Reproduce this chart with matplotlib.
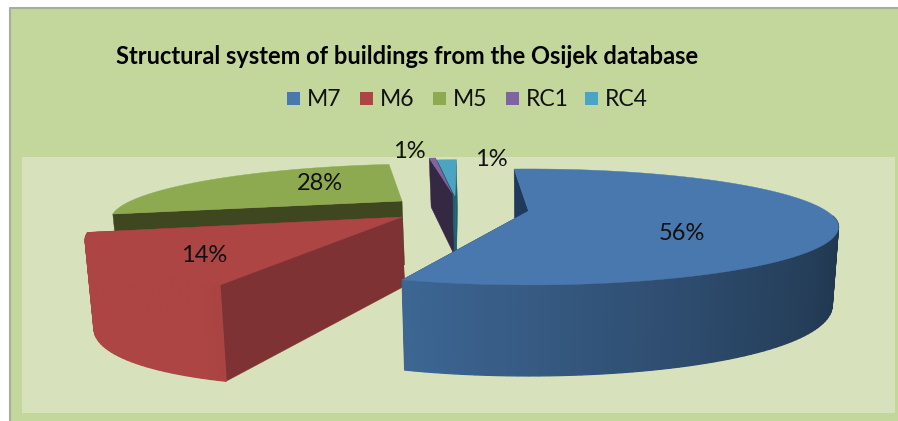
"""Exploded 3D-look pie: structural system of buildings, Osijek database."""
import numpy as np
import matplotlib
matplotlib.use("Agg")
import matplotlib.pyplot as plt
from matplotlib.patches import Polygon, Rectangle

# the printed labels, and the shares as the drawn slice angles
categories = ["M7", "M6", "M5", "RC1", "RC4"]
pct_labels = ["56%", "14%", "28%", "1%", "1%"]
shares = [56.05, 15.0, 26.44, 0.45, 1.35]
colors = ["#4878ae", "#ac4544", "#8eaa50", "#8064a2", "#4aa5c2"]
cut_colors = ["#1f3a5c", "#7e3233", "#3f4720", "#352843", "#1f5f6f"]

# pixel layout (figure is 898x421, axes in pixels, y down)
TITLE = "Structural system of buildings from the Osijek database"
APEX = {"M7": (528.5, 211), "M6": (402, 217), "M5": (402, 201),
        "RC1": (452, 193), "RC4": (455, 196)}
RADIUS = {"M7": 1.0, "M6": 0.955, "M5": 0.96, "RC1": 1.0, "RC4": 1.0}
GAP_BEFORE = {"M7": 0.0, "M6": 2.5, "M5": 0.0, "RC1": 0.0, "RC4": 0.0}
LABEL_AT = {"M7": (682, 234), "M6": (204, 256), "M5": (320, 184),
            "RC1": (409, 151), "RC4": (491, 159)}
LEGEND_X = [287, 360, 433, 506, 585]
RIM_BOOST = {"M7": 0.0, "M6": 0.12, "M5": 0.0, "RC1": 0.0, "RC4": 0.0}
FONT = "Lato"

# perspective camera
OX, OY = 528.0, 211.0
R, RY, K, H = 298.0, 53.6, 0.275, 66.0
SHRINK = 0.02
SIDE_GROW = 0.1
START = 93.5


def project(x, y, bottom=False):
    w = 1 + K * y
    sx = R * x / w
    sy = -RY * y / w
    if bottom:
        sx = sx * (1 - SHRINK)
        sy = sy + H * (1 + SIDE_GROW * x ** 2) / w
    return OX + sx, OY + sy


def unproject(sx, sy):
    a = (OY - sy) / RY
    y = a / (1 - K * a)
    x = (sx - OX) / R * (1 + K * y)
    return x, y


def shade(color, f):
    rgb = np.array(matplotlib.colors.to_rgb(color))
    return tuple(np.clip(rgb * f, 0, 1))


def draw_slice(ax, name, a0, a1, color, cut):
    # a0 > a1, going clockwise, angles in degrees
    x0, y0 = unproject(*APEX[name])
    t = np.radians(np.linspace(a0, a1, max(int(abs(a1 - a0) / 1.5), 4)))
    rx = x0 + RADIUS[name] * np.cos(t)
    ry = y0 + RADIUS[name] * np.sin(t)
    tx, ty = project(rx, ry)
    bx, by = project(rx, ry, bottom=True)
    ax0, ay0 = project(x0, y0)
    bx0, by0 = project(x0, y0, bottom=True)

    # the two cut faces (M5 only shows the one towards the camera)
    for i in ((0,) if name == "M5" else (-1, 0)):
        pts = [(ax0, ay0), (tx[i], ty[i]), (bx[i], by[i]), (bx0, by0)]
        ax.add_patch(Polygon(pts, fc=cut, ec=cut, lw=0.3))

    # outer wall as strips, only the part facing the camera
    if name != "M5":
        for i in range(len(t) - 1):
            if np.sin(t[i]) > -0.1 and np.sin(t[i + 1]) > -0.1:
                continue
            f = min(1.0, 0.757 - 0.31 * np.cos(t[i]) + RIM_BOOST[name])
            pts = [(tx[i], ty[i]), (tx[i + 1], ty[i + 1]),
                   (bx[i + 1], by[i + 1]), (bx[i], by[i])]
            c = shade(color, f)
            ax.add_patch(Polygon(pts, fc=c, ec=c, lw=0.9))

    pts = [(ax0, ay0)] + list(zip(tx, ty))
    ax.add_patch(Polygon(pts, fc=color, ec=color, lw=0.3))


def main():
    fig = plt.figure(figsize=(8.98, 4.21), dpi=100)
    ax = fig.add_axes([0, 0, 1, 1])
    ax.set_xlim(0, 898)
    ax.set_ylim(421, 0)
    ax.axis("off")

    ax.add_patch(Rectangle((10, 8), 888, 413, fc="#c3d69b", ec="none"))
    ax.plot([10, 10, 898], [421, 8, 8], color="#a9ad9f", lw=1.5)
    ax.add_patch(Rectangle((22, 157), 873, 256, fc="#d7e2bc", ec="none"))

    # angular span of each slice from the shares
    spans = {}
    a = START
    for name, s in zip(categories, shares):
        a -= GAP_BEFORE[name]
        spans[name] = (a, a - s * 3.6)
        a -= s * 3.6

    # back to front
    for name in ["M5", "M6", "RC4", "RC1", "M7"]:
        i = categories.index(name)
        draw_slice(ax, name, spans[name][0], spans[name][1], colors[i], cut_colors[i])

    for name, lab in zip(categories, pct_labels):
        x, y = LABEL_AT[name]
        ax.text(x, y, lab, ha="center", va="center", fontsize=17,
                family=FONT, color="#111111")

    ax.text(116, 56, TITLE, ha="left", va="center", fontsize=17,
            fontweight="bold", family=FONT, color="black")

    for x, name, c in zip(LEGEND_X, categories, colors):
        ax.add_patch(Rectangle((x, 92), 13, 13, fc=c, ec="none"))
        ax.text(x + 20, 100, name, ha="left", va="center", fontsize=16.5,
                family=FONT, color="#111111")

    fig.savefig("out.png", dpi=100)
    plt.close(fig)


if __name__ == "__main__":
    main()
